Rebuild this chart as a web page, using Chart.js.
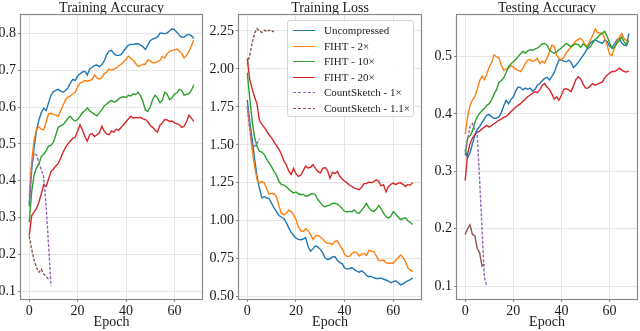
<!DOCTYPE html>
<html>
<head>
<meta charset="utf-8">
<script src="https://cdn.jsdelivr.net/npm/chart.js@4.4.0/dist/chart.umd.min.js"></script>
<style>
  body { margin: 0; background: #fff; }
  #wrap { position: relative; width: 640px; height: 331px; overflow: hidden; background: #fff; }
  #wrap canvas { position: absolute; top: 0; }
  #legend {
    position: absolute; left: 287px; top: 20px; width: 127px; height: 97px;
    background: rgba(255,255,255,0.85); border: 1px solid #d6d6d6; border-radius: 3px;
    box-sizing: border-box; font-family: 'Liberation Serif', serif; font-size: 11px; color: #222;
  }
  .row { position: absolute; left: 0; height: 14px; line-height: 14px; white-space: nowrap; }
  .row .handle { position: absolute; left: 5px; top: 7px; width: 22px; height: 1.4px; }
  .row span { position: absolute; left: 36px; top: 0; }
</style>
</head>
<body>
<div id="wrap">
  <canvas id="trainAcc" width="206" height="331" style="left:0px"></canvas>
  <canvas id="trainLoss" width="220" height="331" style="left:206px"></canvas>
  <canvas id="testAcc" width="214" height="331" style="left:426px"></canvas>
  <div id="legend"></div>
</div>
<script>
const seriesNames = ["Uncompressed", "FIHT - 2×", "FIHT - 10×", "FIHT - 20×", "CountSketch - 1×", "CountSketch - 1.1×"];
const seriesColors = ["#1f77b4", "#ff7f0e", "#2ca02c", "#d62728", "#9467bd", "#8c564b"];
const seriesDashed = [false, false, false, false, true, true];
const epochTicks = [0, 20, 40, 60];
const accTicks = [0.1, 0.2, 0.3, 0.4, 0.5, 0.6, 0.7, 0.8];
const lossTicks = [0.5, 0.75, 1.0, 1.25, 1.5, 1.75, 2.0, 2.25];
const testTicks = [0.1, 0.2, 0.3, 0.4, 0.5];

// Training accuracy
const trainAccUncompressed = [0.336, 0.43, 0.49, 0.535, 0.565, 0.585, 0.597, 0.59, 0.612, 0.632, 0.642, 0.645, 0.648, 0.643, 0.64, 0.645, 0.652, 0.665, 0.675, 0.672, 0.684, 0.69, 0.695, 0.697, 0.687, 0.703, 0.708, 0.713, 0.714, 0.709, 0.715, 0.725, 0.742, 0.752, 0.754, 0.745, 0.74, 0.74, 0.742, 0.752, 0.76, 0.768, 0.77, 0.77, 0.771, 0.772, 0.768, 0.764, 0.756, 0.768, 0.78, 0.784, 0.787, 0.79, 0.8, 0.8, 0.799, 0.801, 0.806, 0.812, 0.81, 0.803, 0.795, 0.789, 0.79, 0.795, 0.797, 0.794, 0.786];
const trainAccFiht2 = [0.358, 0.45, 0.51, 0.54, 0.546, 0.54, 0.538, 0.56, 0.582, 0.583, 0.58, 0.578, 0.575, 0.59, 0.605, 0.62, 0.627, 0.63, 0.636, 0.64, 0.655, 0.665, 0.668, 0.672, 0.67, 0.672, 0.675, 0.687, 0.678, 0.676, 0.68, 0.69, 0.695, 0.703, 0.7, 0.703, 0.706, 0.712, 0.716, 0.722, 0.73, 0.738, 0.732, 0.727, 0.718, 0.71, 0.712, 0.716, 0.716, 0.728, 0.726, 0.72, 0.72, 0.724, 0.726, 0.737, 0.733, 0.745, 0.75, 0.754, 0.755, 0.757, 0.752, 0.746, 0.733, 0.74, 0.75, 0.766, 0.782];
const trainAccFiht10 = [0.288, 0.37, 0.415, 0.435, 0.445, 0.466, 0.472, 0.482, 0.494, 0.496, 0.505, 0.525, 0.545, 0.549, 0.552, 0.56, 0.57, 0.575, 0.566, 0.562, 0.566, 0.575, 0.585, 0.59, 0.598, 0.59, 0.585, 0.58, 0.576, 0.585, 0.593, 0.603, 0.608, 0.614, 0.618, 0.613, 0.616, 0.622, 0.626, 0.628, 0.626, 0.632, 0.63, 0.636, 0.634, 0.64, 0.63, 0.615, 0.592, 0.588, 0.6, 0.62, 0.632, 0.625, 0.612, 0.618, 0.64, 0.635, 0.62, 0.625, 0.635, 0.638, 0.648, 0.645, 0.632, 0.635, 0.636, 0.645, 0.66];
const trainAccFiht20 = [0.252, 0.305, 0.315, 0.325, 0.342, 0.365, 0.39, 0.385, 0.405, 0.425, 0.432, 0.44, 0.447, 0.462, 0.478, 0.49, 0.5, 0.508, 0.515, 0.518, 0.535, 0.552, 0.537, 0.52, 0.508, 0.525, 0.528, 0.52, 0.525, 0.53, 0.548, 0.535, 0.527, 0.525, 0.535, 0.532, 0.54, 0.537, 0.545, 0.552, 0.56, 0.568, 0.575, 0.57, 0.572, 0.57, 0.572, 0.568, 0.566, 0.56, 0.55, 0.545, 0.537, 0.532, 0.55, 0.557, 0.566, 0.565, 0.561, 0.562, 0.557, 0.555, 0.552, 0.545, 0.548, 0.56, 0.578, 0.57, 0.561];
const trainAccSketch1 = [0.33, 0.44, 0.475, 0.47, 0.45, 0.43, 0.41, 0.33, 0.225, 0.115];
const trainAccSketch11 = [0.25, 0.215, 0.185, 0.165, 0.152, 0.16, 0.147, 0.14, 0.133];

// Training loss
const trainLossUncompressed = [1.795, 1.66, 1.54, 1.41, 1.29, 1.215, 1.15, 1.16, 1.15, 1.145, 1.115, 1.085, 1.06, 1.035, 1.025, 1.015, 0.99, 0.955, 0.925, 0.905, 0.885, 0.878, 0.875, 0.88, 0.89, 0.83, 0.8, 0.815, 0.835, 0.828, 0.812, 0.79, 0.755, 0.745, 0.75, 0.762, 0.765, 0.74, 0.725, 0.718, 0.69, 0.682, 0.686, 0.692, 0.678, 0.668, 0.662, 0.67, 0.66, 0.64, 0.632, 0.634, 0.625, 0.62, 0.62, 0.624, 0.615, 0.61, 0.602, 0.592, 0.6, 0.605, 0.593, 0.578, 0.585, 0.596, 0.605, 0.612, 0.622];
const trainLossFiht2 = [1.75, 1.62, 1.47, 1.36, 1.27, 1.25, 1.258, 1.25, 1.21, 1.175, 1.18, 1.178, 1.16, 1.1, 1.05, 1.04, 1.048, 1.07, 1.062, 1.04, 1.01, 0.96, 0.935, 0.93, 0.948, 0.935, 0.91, 0.878, 0.9, 0.905, 0.893, 0.882, 0.86, 0.852, 0.852, 0.842, 0.865, 0.868, 0.84, 0.815, 0.78, 0.765, 0.766, 0.785, 0.795, 0.79, 0.768, 0.78, 0.785, 0.772, 0.805, 0.8, 0.795, 0.77, 0.74, 0.738, 0.742, 0.725, 0.72, 0.72, 0.72, 0.74, 0.755, 0.775, 0.76, 0.73, 0.69, 0.675, 0.665];
const trainLossFiht10 = [1.975, 1.81, 1.66, 1.55, 1.49, 1.458, 1.453, 1.436, 1.405, 1.38, 1.355, 1.325, 1.3, 1.26, 1.24, 1.235, 1.226, 1.21, 1.195, 1.183, 1.19, 1.178, 1.172, 1.175, 1.162, 1.165, 1.175, 1.18, 1.17, 1.14, 1.12, 1.1, 1.093, 1.1, 1.105, 1.114, 1.115, 1.11, 1.098, 1.08, 1.062, 1.06, 1.062, 1.06, 1.072, 1.052, 1.05, 1.07, 1.09, 1.115, 1.085, 1.068, 1.062, 1.075, 1.1, 1.08, 1.05, 1.028, 1.018, 1.03, 1.06, 1.045, 1.025, 1.008, 1.015, 1.02, 1.0, 0.99, 0.975];
const trainLossFiht20 = [2.07, 1.93, 1.87, 1.815, 1.77, 1.66, 1.635, 1.615, 1.59, 1.565, 1.546, 1.52, 1.495, 1.47, 1.44, 1.395, 1.37, 1.33, 1.305, 1.345, 1.31, 1.292, 1.3, 1.33, 1.36, 1.348, 1.352, 1.37, 1.345, 1.325, 1.315, 1.345, 1.35, 1.33, 1.28, 1.32, 1.31, 1.325, 1.295, 1.275, 1.26, 1.25, 1.235, 1.226, 1.215, 1.21, 1.205, 1.22, 1.245, 1.245, 1.255, 1.25, 1.258, 1.27, 1.26, 1.23, 1.238, 1.19, 1.225, 1.24, 1.248, 1.238, 1.248, 1.25, 1.24, 1.225, 1.238, 1.235, 1.25];
const trainLossSketch1 = [1.76, 1.6, 1.5, 1.49, 1.51, 1.54];
const trainLossSketch11 = [2.03, 2.09, 2.17, 2.235, 2.265, 2.25, 2.24, 2.255, 2.245, 2.255, 2.25, 2.245];

// Testing accuracy
const testAccUncompressed = [0.337, 0.324, 0.332, 0.348, 0.362, 0.373, 0.378, 0.385, 0.392, 0.398, 0.399, 0.395, 0.392, 0.393, 0.395, 0.402, 0.414, 0.424, 0.418, 0.425, 0.43, 0.44, 0.447, 0.446, 0.442, 0.445, 0.443, 0.445, 0.44, 0.443, 0.45, 0.453, 0.458, 0.462, 0.464, 0.459, 0.465, 0.472, 0.484, 0.494, 0.494, 0.492, 0.491, 0.494, 0.49, 0.481, 0.485, 0.49, 0.496, 0.502, 0.508, 0.517, 0.524, 0.527, 0.529, 0.527, 0.525, 0.523, 0.529, 0.526, 0.518, 0.516, 0.522, 0.529, 0.532, 0.524, 0.52, 0.519, 0.54];
const testAccFiht2 = [0.365, 0.395, 0.415, 0.424, 0.43, 0.443, 0.458, 0.466, 0.46, 0.47, 0.482, 0.49, 0.503, 0.5, 0.498, 0.485, 0.476, 0.478, 0.48, 0.484, 0.482, 0.478, 0.476, 0.474, 0.48, 0.488, 0.494, 0.495, 0.492, 0.493, 0.497, 0.488, 0.492, 0.489, 0.497, 0.508, 0.52, 0.518, 0.502, 0.497, 0.494, 0.499, 0.506, 0.512, 0.517, 0.522, 0.527, 0.53, 0.532, 0.527, 0.519, 0.52, 0.529, 0.537, 0.548, 0.542, 0.541, 0.54, 0.532, 0.52, 0.504, 0.502, 0.515, 0.526, 0.533, 0.54, 0.532, 0.528, 0.526];
const testAccFiht10 = [0.328, 0.358, 0.362, 0.37, 0.385, 0.395, 0.401, 0.406, 0.41, 0.415, 0.418, 0.425, 0.435, 0.442, 0.455, 0.458, 0.463, 0.472, 0.482, 0.487, 0.491, 0.495, 0.5, 0.505, 0.509, 0.506, 0.51, 0.512, 0.511, 0.513, 0.515, 0.518, 0.522, 0.523, 0.52, 0.512, 0.508, 0.506, 0.508, 0.512, 0.515, 0.519, 0.523, 0.52, 0.517, 0.52, 0.522, 0.521, 0.516, 0.522, 0.519, 0.514, 0.517, 0.524, 0.53, 0.533, 0.538, 0.541, 0.544, 0.535, 0.524, 0.514, 0.516, 0.523, 0.528, 0.534, 0.526, 0.52, 0.528];
const testAccFiht20 = [0.284, 0.33, 0.348, 0.358, 0.364, 0.368, 0.37, 0.374, 0.377, 0.38, 0.377, 0.38, 0.383, 0.386, 0.389, 0.391, 0.394, 0.396, 0.399, 0.404, 0.408, 0.412, 0.415, 0.418, 0.422, 0.426, 0.43, 0.433, 0.436, 0.439, 0.437, 0.442, 0.45, 0.453, 0.447, 0.443, 0.435, 0.426, 0.43, 0.424, 0.433, 0.443, 0.444, 0.442, 0.439, 0.449, 0.46, 0.465, 0.461, 0.452, 0.445, 0.445, 0.449, 0.453, 0.45, 0.452, 0.454, 0.456, 0.463, 0.468, 0.471, 0.474, 0.474, 0.476, 0.48, 0.477, 0.474, 0.473, 0.475];
const testAccSketch1 = [0.335, 0.355, 0.378, 0.383, 0.372, 0.365, 0.285, 0.2, 0.115, 0.1];
const testAccSketch11 = [0.19, 0.2, 0.207, 0.19, 0.188, 0.166, 0.158, 0.135, 0.138];

const FONT = "'Liberation Serif', 'Times New Roman', serif";
const TEXT = "#1a1a1a";
Chart.defaults.font.family = FONT;
Chart.defaults.color = TEXT;

// matplotlib-style box around the axes
const framePlugin = {
  id: "frame",
  afterDraw(chart) {
    const a = chart.chartArea;
    const ctx = chart.ctx;
    ctx.save();
    ctx.strokeStyle = "#8a8a8a";
    ctx.lineWidth = 1.2;
    ctx.strokeRect(a.left - 0.5, a.top - 0.5, a.right - a.left + 1, a.bottom - a.top + 1);
    ctx.restore();
  }
};

function toPoints(values) {
  return values.map((v, i) => ({ x: i, y: v }));
}

function makeChart(id, title, series, dashed, yMin, yMax, yTicks, digits, yWidth, padRight) {
  const datasets = series.map((values, i) => ({
    label: seriesNames[i],
    data: toPoints(values),
    borderColor: seriesColors[i],
    backgroundColor: seriesColors[i],
    borderWidth: 1.4,
    borderDash: dashed[i] ? [3, 1.6] : [],
    pointRadius: 0,
    tension: 0,
    fill: false,
    order: series.length - i
  }));
  return new Chart(document.getElementById(id), {
    type: "line",
    data: { datasets: datasets },
    plugins: [framePlugin],
    options: {
      responsive: false,
      animation: false,
      devicePixelRatio: 1,
      layout: { padding: { left: 0, right: padRight, top: 0, bottom: 0 } },
      plugins: {
        legend: { display: false },
        tooltip: { enabled: false },
        title: {
          display: true,
          text: title,
          fullSize: false,
          color: TEXT,
          font: { family: FONT, size: 14, weight: "normal", lineHeight: 0.93 },
          padding: { top: 2, bottom: 0 }
        }
      },
      scales: {
        x: {
          type: "linear",
          min: -3.4,
          max: 71.4,
          bounds: "data",
          afterFit: (s) => { s.height = 32; },
          afterBuildTicks: (s) => { s.ticks = epochTicks.map((v) => ({ value: v })); },
          ticks: { font: { size: 14 }, color: TEXT, padding: 1, maxRotation: 0 },
          grid: { color: "#e6e6e6", lineWidth: 1, tickLength: 3, tickColor: "#8a8a8a" },
          border: { display: false },
          title: { display: true, text: "Epoch", color: TEXT, font: { size: 14 }, padding: { top: 0, bottom: 0 } }
        },
        y: {
          type: "linear",
          min: yMin,
          max: yMax,
          bounds: "data",
          afterFit: (s) => { s.width = yWidth; },
          afterBuildTicks: (s) => { s.ticks = yTicks.map((v) => ({ value: v })); },
          ticks: {
            font: { size: 14 },
            color: TEXT,
            padding: 2,
            callback: (v) => Number(v).toFixed(digits)
          },
          grid: { color: "#e6e6e6", lineWidth: 1, tickLength: 3, tickColor: "#8a8a8a" },
          border: { display: false }
        }
      }
    }
  });
}

makeChart("trainAcc", "Training Accuracy",
  [trainAccUncompressed, trainAccFiht2, trainAccFiht10, trainAccFiht20, trainAccSketch1, trainAccSketch11],
  seriesDashed, 0.0795, 0.8495, accTicks, 1, 21, 4);

makeChart("trainLoss", "Training Loss",
  [trainLossUncompressed, trainLossFiht2, trainLossFiht10, trainLossFiht20, trainLossSketch1, trainLossSketch11],
  seriesDashed, 0.485, 2.355, lossTicks, 2, 33, 5);

makeChart("testAcc", "Testing Accuracy",
  [testAccUncompressed, testAccFiht2, testAccFiht10, testAccFiht20, testAccSketch1, testAccSketch11],
  [false, false, false, false, true, false], 0.0775, 0.5725, testTicks, 1, 31, 3);

// legend box inside the Training Loss panel
const legend = document.getElementById("legend");
seriesNames.forEach((name, i) => {
  const row = document.createElement("div");
  row.className = "row";
  row.style.top = Math.round(2 + i * 15.6) + "px";
  const handle = document.createElement("div");
  handle.className = "handle";
  handle.style.background = seriesDashed[i]
    ? "repeating-linear-gradient(90deg, " + seriesColors[i] + " 0 3px, transparent 3px 5px)"
    : seriesColors[i];
  const label = document.createElement("span");
  label.textContent = name;
  row.appendChild(handle);
  row.appendChild(label);
  legend.appendChild(row);
});
</script>
</body>
</html>
